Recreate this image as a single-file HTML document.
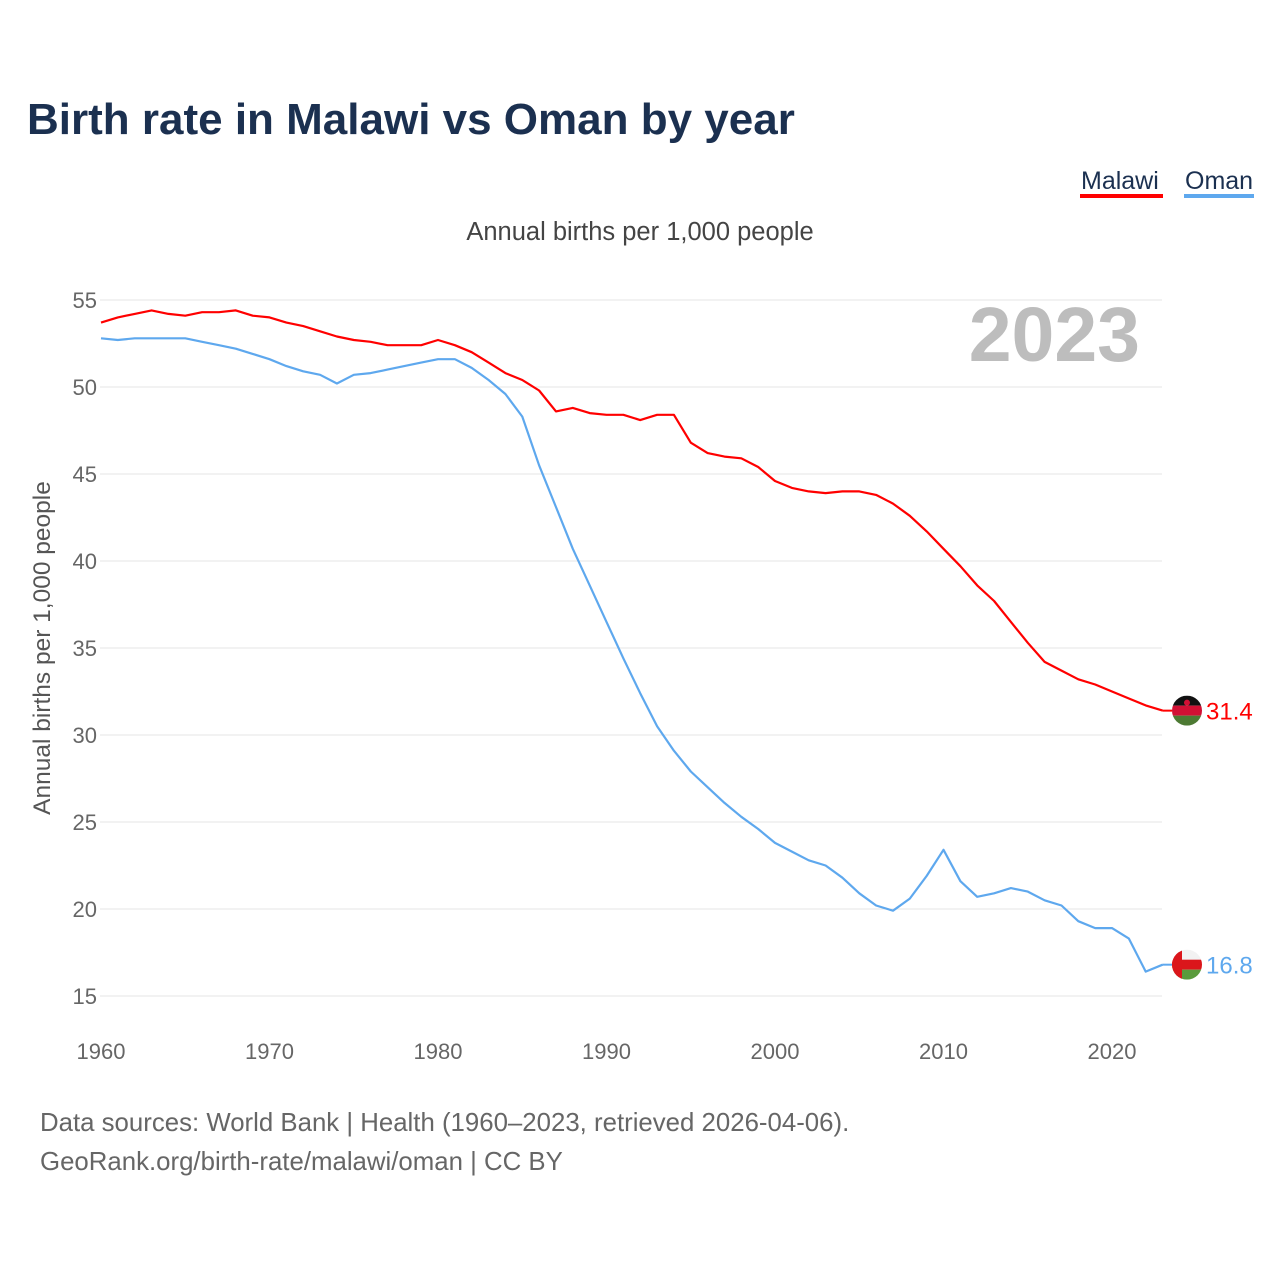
<!DOCTYPE html>
<html><head><meta charset="utf-8">
<style>
body{margin:0;background:#fff;font-family:"Liberation Sans",sans-serif;}
svg text{font-family:"Liberation Sans",sans-serif;}
</style></head>
<body>
<svg id="chart" width="1280" height="1280" viewBox="0 0 1280 1280" xmlns="http://www.w3.org/2000/svg">
<rect width="1280" height="1280" fill="#fff"/>
<text x="27" y="134" font-size="44" font-weight="bold" fill="#1b3050">Birth rate in Malawi vs Oman by year</text>
<g>
<text x="1081" y="189" font-size="25" fill="#1b3050">Malawi</text>
<rect x="1080" y="194" width="83" height="4" fill="#ff0000"/>
<text x="1185" y="189" font-size="25" fill="#1b3050">Oman</text>
<rect x="1184" y="194" width="70" height="4" fill="#5ea8ee"/>
</g>
<text x="640" y="240" font-size="25.5" fill="#444" text-anchor="middle">Annual births per 1,000 people</text>
<text transform="translate(50,648) rotate(-90)" font-size="24.5" fill="#555" text-anchor="middle">Annual births per 1,000 people</text>
<g id="grid"></g>
<text x="1140" y="361" font-size="77" font-weight="bold" fill="#bdbdbd" text-anchor="end">2023</text>
<g id="lines"></g>
<g font-size="25.8" fill="#666">
<text x="40" y="1131">Data sources: World Bank | Health (1960–2023, retrieved 2026-04-06).</text>
<text x="40" y="1170">GeoRank.org/birth-rate/malawi/oman | CC BY</text>
</g>
</svg>
<script>
const years=[];for(let y=1960;y<=2023;y++)years.push(y);
const malawi=[53.7,54.0,54.2,54.4,54.2,54.1,54.3,54.3,54.4,54.1,54.0,53.7,53.5,53.2,52.9,52.7,52.6,52.4,52.4,52.4,52.7,52.4,52.0,51.4,50.8,50.4,49.8,48.6,48.8,48.5,48.4,48.4,48.1,48.4,48.4,46.8,46.2,46.0,45.9,45.4,44.6,44.2,44.0,43.9,44.0,44.0,43.8,43.3,42.6,41.7,40.7,39.7,38.6,37.7,36.5,35.3,34.2,33.7,33.2,32.9,32.5,32.1,31.7,31.4];
const oman=[52.8,52.7,52.8,52.8,52.8,52.8,52.6,52.4,52.2,51.9,51.6,51.2,50.9,50.7,50.2,50.7,50.8,51.0,51.2,51.4,51.6,51.6,51.1,50.4,49.6,48.3,45.5,43.1,40.7,38.6,36.5,34.4,32.4,30.5,29.1,27.9,27.0,26.1,25.3,24.6,23.8,23.3,22.8,22.5,21.8,20.9,20.2,19.9,20.6,21.9,23.4,21.6,20.7,20.9,21.2,21.0,20.5,20.2,19.3,18.9,18.9,18.3,16.4,16.8];
const yTicks=[15,20,25,30,35,40,45,50,55];
const xTicks=[1960,1970,1980,1990,2000,2010,2020];
const NS="http://www.w3.org/2000/svg";
const X=y=>101+(y-1960)*(1011/60);
const Y=v=>996-(v-15)*17.4;
function mk(tag,attrs,parent){const e=document.createElementNS(NS,tag);for(const k in attrs)e.setAttribute(k,attrs[k]);parent.appendChild(e);return e;}
const grid=document.getElementById('grid'),lines=document.getElementById('lines');
yTicks.forEach(t=>{
 const l=mk('line',{x1:100,x2:1162,y1:Y(t),y2:Y(t),stroke:'#e6e6e6','stroke-width':1},grid);
 
 
 const tx=mk('text',{x:97,y:Y(t)+8,'font-size':22,fill:'#666','text-anchor':'end'},grid);
 tx.textContent=t;
 
 
});
xTicks.forEach(t=>{
 const tx=mk('text',{x:X(t),y:1059,'font-size':22,fill:'#666','text-anchor':'middle'},grid);
 tx.textContent=t;
 
 
});
function drawLine(vals,color,name){
 const d=vals.map((v,i)=>(i?'L':'M')+X(years[i]).toFixed(1)+','+Y(v).toFixed(1)).join('');
 const p=mk('path',{d:d,fill:'none',stroke:color,'stroke-width':2.2,'stroke-linejoin':'round'},lines);
 
 
 const last=vals[vals.length-1],ly=Y(last);
 mk('line',{x1:X(2023),x2:1172,y1:ly,y2:ly,stroke:color,'stroke-width':2},lines);
 const tx=mk('text',{x:1206,y:ly+9,'font-size':24,fill:color},lines);
 tx.textContent=last.toFixed(1);
 
 
 return ly;
}
const my=drawLine(malawi,'#ff0000','malawi');
const oy=drawLine(oman,'#5ea8ee','oman');
const fm=mk('g',{},lines);


const cm=mk('clipPath',{id:'cm'},fm);mk('circle',{cx:1187,cy:my,r:15},cm);
const gm=mk('g',{'clip-path':'url(#cm)'},fm);
mk('rect',{x:1172,y:my-15,width:30,height:10,fill:'#111'},gm);
mk('rect',{x:1172,y:my-5,width:30,height:10,fill:'#d21034'},gm);
mk('rect',{x:1172,y:my+5,width:30,height:10,fill:'#4d7a33'},gm);
mk('circle',{cx:1187,cy:my-8,r:3,fill:'#d21034'},gm);
const fo=mk('g',{},lines);


const co=mk('clipPath',{id:'co'},fo);mk('circle',{cx:1187,cy:oy,r:15},co);
const go=mk('g',{'clip-path':'url(#co)'},fo);
mk('rect',{x:1172,y:oy-15,width:30,height:10,fill:'#f2f2f2'},go);
mk('rect',{x:1172,y:oy-5,width:30,height:10,fill:'#db161b'},go);
mk('rect',{x:1172,y:oy+5,width:30,height:10,fill:'#5a9b3c'},go);
mk('rect',{x:1172,y:oy-15,width:10,height:30,fill:'#db161b'},go);
</script>
</body></html>
